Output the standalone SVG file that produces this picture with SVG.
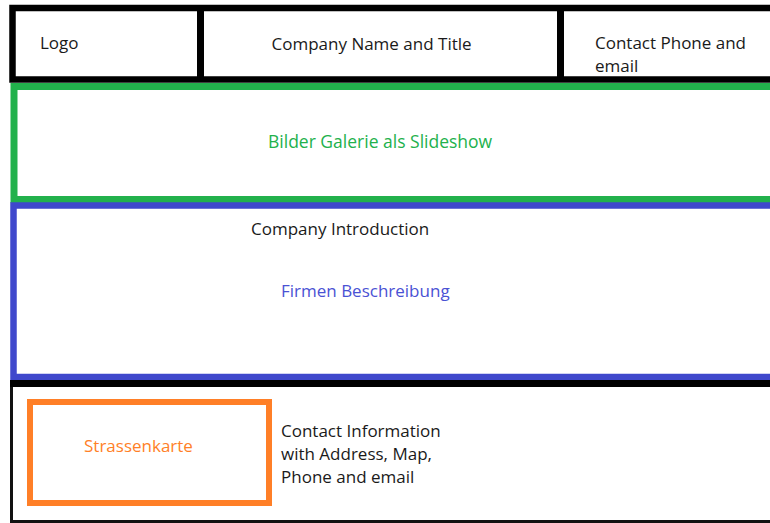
<svg xmlns="http://www.w3.org/2000/svg" width="770" height="523" viewBox="0 0 770 523">
<style>
.t{font-family:"Open Sans","Noto Sans",sans-serif;font-size:17px;fill:#1a1a1a}
.box{fill:#fff}
</style>
<rect x="0" y="0" width="770" height="523" fill="#fff"/>
<g id="header">
<rect class="box" x="12.5" y="8" width="800" height="71.5" stroke="#000" stroke-width="6.5"/>
</g>
<g id="logo">
<text class="t" x="40" y="49">Logo</text>
</g>
<g id="company-name">
<line x1="200.5" y1="8" x2="200.5" y2="79.5" stroke="#000" stroke-width="7"/>
<text class="t" x="271.5" y="50">Company Name and Title</text>
</g>
<g id="contact-phone">
<line x1="560.5" y1="8" x2="560.5" y2="79.5" stroke="#000" stroke-width="7"/>
<text class="t" x="595" y="49">Contact Phone and</text>
<text class="t" x="595" y="72">email</text>
</g>
<g id="gallery">
<rect class="box" x="14" y="86.5" width="800" height="113" stroke="#22b14c" stroke-width="7"/>
<text class="t" x="268" y="148" style="fill:#22b14c;font-size:17.5px">Bilder Galerie als Slideshow</text>
</g>
<g id="introduction">
<rect class="box" x="13.5" y="205.5" width="800" height="171.5" stroke="#3f48cc" stroke-width="6.5"/>
<text class="t" x="251" y="235">Company Introduction</text>
<text class="t" x="281" y="297" style="fill:#4a52d4">Firmen Beschreibung</text>
</g>
<g id="contact-info">
<rect class="box" x="11.5" y="383.5" width="800" height="138" stroke="#111" stroke-width="3"/>
<line x1="10" y1="383.5" x2="770" y2="383.5" stroke="#000" stroke-width="7"/>
<text class="t" x="281" y="437">Contact Information</text>
<text class="t" x="281" y="460">with Address, Map,</text>
<text class="t" x="281" y="483">Phone and email</text>
</g>
<g id="map">
<rect class="box" x="30" y="402" width="239" height="101" stroke="#ff7f27" stroke-width="6"/>
<text class="t" x="84" y="452" style="fill:#ff7f27">Strassenkarte</text>
</g>
<g id="connectors"></g>
</svg>
